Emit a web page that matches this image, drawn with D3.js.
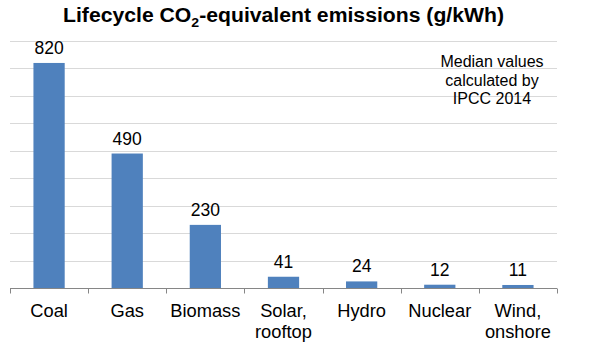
<!DOCTYPE html>
<html><head><meta charset="utf-8">
<script src="https://cdn.jsdelivr.net/npm/d3@7"></script>
<style>body{margin:0;background:#fff;} svg{display:block;font-family:"Liberation Sans",Arial,sans-serif;}</style>
</head><body>
<svg id="c" width="600" height="361"></svg>
<script>
const categories = ["Coal","Gas","Biomass","Solar, rooftop","Hydro","Nuclear","Wind, onshore"];
const categoryLines = [["Coal"],["Gas"],["Biomass"],["Solar,","rooftop"],["Hydro"],["Nuclear"],["Wind,","onshore"]];
const values = [820,490,230,41,24,12,11];
const gridTicks = [100,200,300,400,500,600,700,800,900];
const noteLines = ["Median values","calculated by","IPCC 2014"];

const svg = d3.select("#c");
const m = {left:10, right:43, top:41, bottom:73};
const W = 600, H = 361;
const x = d3.scaleBand().domain(categories).range([m.left, W-m.right]).paddingInner(0).paddingOuter(0);
const y = d3.scaleLinear().domain([0,900]).range([H-m.bottom, m.top]);

// gridlines
svg.append("g").selectAll("line").data(gridTicks).join("line")
  .attr("x1", m.left).attr("x2", W-m.right)
  .attr("y1", d=>Math.round(y(d))+0.5).attr("y2", d=>Math.round(y(d))+0.5)
  .attr("stroke","#d9d9d9").attr("stroke-width",1);

// bars
const bw = x.bandwidth()*0.4;
svg.append("g").selectAll("rect").data(values).join("rect")
  .attr("x",(d,i)=>x(categories[i])+(x.bandwidth()-bw)/2)
  .attr("width",bw)
  .attr("y",d=>y(d)).attr("height",d=>y(0)-y(d))
  .attr("fill","#4f81bd");

// axis
const ax = svg.append("g").attr("transform",`translate(0,${Math.round(y(0))+0.5})`);
ax.append("line").attr("x1",m.left).attr("x2",W-m.right).attr("stroke","#868686");
const bounds = categories.map(c=>x(c)).concat([W-m.right]);
ax.selectAll("line.t").data(bounds).join("line").attr("class","t")
  .attr("x1",d=>Math.round(d)+0.5).attr("x2",d=>Math.round(d)+0.5).attr("y1",0).attr("y2",5)
  .attr("stroke","#868686");

// value labels
svg.append("g").selectAll("text").data(values).join("text")
  .attr("x",(d,i)=>x(categories[i])+x.bandwidth()/2)
  .attr("y",d=>y(d)-9)
  .attr("text-anchor","middle").attr("font-size",17.5).attr("fill","#000")
  .text(d=>d);

// category labels
const cl = svg.append("g").selectAll("text").data(categoryLines).join("text")
  .attr("x",(d,i)=>x(categories[i])+x.bandwidth()/2)
  .attr("y",317)
  .attr("text-anchor","middle").attr("font-size",18.3).attr("fill","#000");
cl.selectAll("tspan").data(d=>d).join("tspan")
  .attr("x",function(){return this.parentNode.getAttribute("x");})
  .attr("dy",(d,j)=>j===0?0:21).text(d=>d);

// title
const t = svg.append("text").attr("x",283.5).attr("y",22).attr("text-anchor","middle")
  .attr("font-size",19.5).attr("font-weight","bold").attr("fill","#000")
  .attr("textLength",441).attr("lengthAdjust","spacingAndGlyphs");
t.append("tspan").text("Lifecycle CO");
t.append("tspan").attr("font-size",13).attr("dy",5).text("2");
t.append("tspan").attr("dy",-5).text("-equivalent emissions (g/kWh)");

// note
svg.append("g").selectAll("text").data(noteLines).join("text")
  .attr("x",492).attr("y",(d,i)=>67+i*18.5)
  .attr("text-anchor","middle").attr("font-size",16).attr("fill","#000").text(d=>d);
</script>
</body></html>
